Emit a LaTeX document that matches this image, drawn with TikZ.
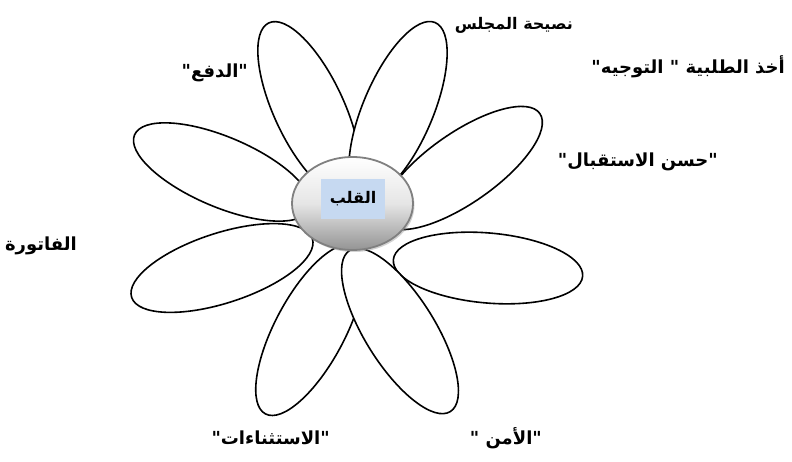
\documentclass[tikz,border=0pt]{standalone}
\usepackage{fontspec}
\usepackage{tikz}
\usetikzlibrary{shapes.geometric, shadows}
\newfontfamily\arabicfont[Script=Arabic]{DejaVu Sans}
\TeXXeTstate=1
\definecolor{HeartBlue}{HTML}{C6D9F1}
\newcommand{\artxt}[1]{\beginR #1\endR}

\begin{document}
\begin{tikzpicture}[x=1pt, y=1pt,
    petal/.style={
      ellipse, draw=black, fill=white, line width=1.6pt,
      minimum width=190pt, minimum height=70pt, inner sep=0pt
    },
    lbl/.style={font={\arabicfont\bfseries\fontsize{18}{21}\selectfont}, inner sep=0pt, anchor=east}
  ]
    \useasboundingbox (0,0) rectangle (792,461);

    % petals, left side first so the right ones lie on top
    \node[petal, rotate=157]  (pH) at (222,289) {};
    \node[petal, rotate=-162] (pG) at (222,193) {};
    \node[petal, rotate=-118] (pF) at (310,131) {};
    \node[petal, rotate=115]  (pA) at (309,352) {};
    \node[petal, rotate=67]   (pB) at (398,351) {};
    \node[petal, rotate=35]   (pC) at (462,293) {};
    \node[petal, rotate=-5]   (pD) at (488,193) {};
    \node[petal, rotate=-58]  (pE) at (400,130) {};

    % heart of the flower
    \node[ellipse, draw=black!50, line width=1.8pt, minimum width=121pt, minimum height=93pt,
      top color=white, bottom color=black!42, middle color=black!10,
      drop shadow={shadow xshift=1.5pt, shadow yshift=-2pt, opacity=0.35}] (heart) at (352.5,257.5) {};
    \node[fill=HeartBlue, minimum width=64pt, minimum height=40pt, lbl, anchor=center,
      font={\arabicfont\bfseries\fontsize{16}{19}\selectfont}] (heartlbl) at (353,262) {\artxt{القلب}};

    \node[lbl, font={\arabicfont\bfseries\fontsize{16}{19}\selectfont}] (nasiha) at (573,436) {\artxt{نصيحة المجلس}};
    \node[lbl] (akhdh) at (785,394) {\artxt{أخذ الطلبية " التوجيه"}};
    \node[lbl] (husn) at (718,299) {\artxt{"حسن الاستقبال"}};
    \node[lbl] (dafa) at (248,388) {\artxt{"الدفع"}};
    \node[lbl] (fatura) at (77,215) {\artxt{الفاتورة}};
    \node[lbl] (istithna) at (330,23) {\artxt{"الاستثناءات"}};
    \node[lbl] (amn) at (542,23) {\artxt{"الأمن "}};
  \end{tikzpicture}
\end{document}
